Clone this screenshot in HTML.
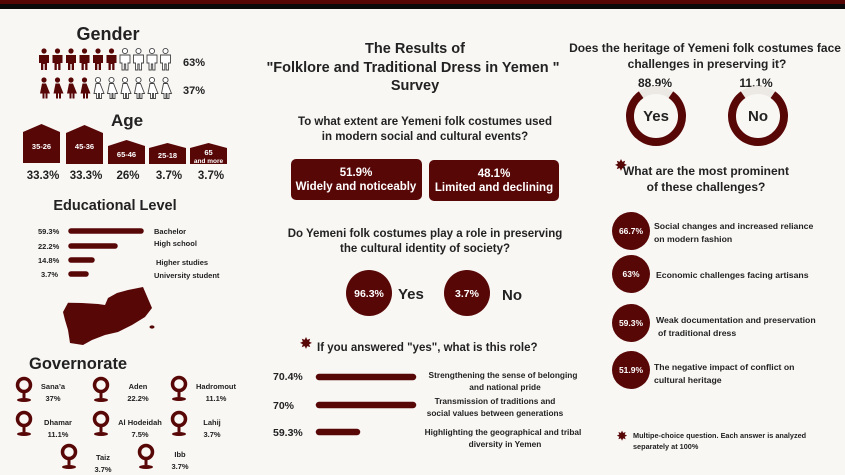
<!DOCTYPE html>
<html><head><meta charset="utf-8"><style>
html,body{margin:0;padding:0;background:#f9f7f4;}
svg{display:block;}
text{font-family:"Liberation Sans",sans-serif;font-weight:bold;fill:#222;}
</style></head><body>
<svg width="845" height="475" viewBox="0 0 845 475" xmlns="http://www.w3.org/2000/svg">
<defs>
<g id="man"><circle cx="6" cy="3" r="2.6"/><path d="M1 7 h10 v8 h-2 v7 h-2.3 v-6 h-1.4 v6 h-2.3 v-7 h-2 z"/></g>
<g id="woman"><circle cx="6" cy="3" r="2.6"/><path d="M4 6.5 h4 l4 10 h-2.5 v5 h-2 v-5 h-1 v5 h-2 v-5 h-2.5 z"/></g>
<g id="pin"><circle cx="9" cy="8" r="6.5" fill="none" stroke="#580707" stroke-width="3.5"/><path d="M7.5 14 h3 v7 h-3z" fill="#580707"/><ellipse cx="9" cy="23" rx="7" ry="2" fill="#580707"/></g>
</defs>
<rect width="845" height="475" fill="#f9f7f4"/>
<rect width="845" height="4" fill="#580707"/>
<rect y="4" width="845" height="5" fill="#0a0a0a"/>

<!-- Gender -->
<text x="108" y="40" font-size="18" text-anchor="middle">Gender</text>
<g fill="#580707">
<use href="#man" x="38" y="48"/><use href="#man" x="51.5" y="48"/><use href="#man" x="65" y="48"/><use href="#man" x="78.5" y="48"/><use href="#man" x="92" y="48"/><use href="#man" x="105.5" y="48"/>
</g>
<g fill="#fff" stroke="#444" stroke-width="0.9">
<use href="#man" x="119" y="48"/><use href="#man" x="132.5" y="48"/><use href="#man" x="146" y="48"/><use href="#man" x="159.5" y="48"/>
</g>
<g fill="#580707">
<use href="#woman" x="38" y="77"/><use href="#woman" x="51.5" y="77"/><use href="#woman" x="65" y="77"/><use href="#woman" x="78.5" y="77"/>
</g>
<g fill="#fff" stroke="#444" stroke-width="0.9">
<use href="#woman" x="92" y="77"/><use href="#woman" x="105.5" y="77"/><use href="#woman" x="119" y="77"/><use href="#woman" x="132.5" y="77"/><use href="#woman" x="146" y="77"/><use href="#woman" x="159.5" y="77"/>
</g>
<text x="183" y="66" font-size="11">63%</text>
<text x="183" y="94" font-size="11">37%</text>

<!-- Age -->
<text x="127" y="126" font-size="17" text-anchor="middle">Age</text>
<g fill="#580707">
<polygon points="23,132 41.5,124 60,132 60,163 23,163"/>
<polygon points="66,133 84.5,125 103,133 103,164 66,164"/>
<polygon points="108,146 126.5,140 145,146 145,164 108,164"/>
<polygon points="149,148 167.5,143 186,148 186,164 149,164"/>
<polygon points="190,148 208.5,143 227,148 227,164 190,164"/>
</g>
<g font-size="7.5" text-anchor="middle">
<text x="41.5" y="149" style="fill:#fff">35-26</text>
<text x="84.5" y="149" style="fill:#fff">45-36</text>
<text x="126.5" y="157" style="fill:#fff">65-46</text>
<text x="167.5" y="158" style="fill:#fff">25-18</text>
<text x="208.5" y="155" style="fill:#fff">65</text>
<text x="208.5" y="163" font-size="6.5" style="fill:#fff">and more</text>
</g>
<g font-size="11.5" text-anchor="middle">
<text x="43" y="179">33.3%</text><text x="86" y="179">33.3%</text><text x="128" y="179">26%</text><text x="169" y="179">3.7%</text><text x="211" y="179">3.7%</text>
</g>

<!-- Education -->
<text x="115" y="210" font-size="14.5" text-anchor="middle">Educational Level</text>
<g font-size="7.5">
<text x="38" y="234">59.3%</text><text x="38" y="249">22.2%</text><text x="38" y="263">14.8%</text><text x="41" y="277">3.7%</text>
<text x="154" y="234">Bachelor</text><text x="154" y="246">High school</text><text x="156" y="265">Higher studies</text><text x="154" y="278">University student</text>
</g>
<g stroke="#580707" stroke-width="5.5" stroke-linecap="round">
<line x1="71" y1="231" x2="141" y2="231"/><line x1="71" y1="246" x2="115" y2="246"/><line x1="71" y1="260" x2="92" y2="260"/><line x1="71" y1="274" x2="86" y2="274"/>
</g>
<polygon fill="#580707" points="68,302.7 82,303 98,304 105,305 108,298 117,293 128,290 143,287 152,308 145,317 132,325 118,332 105,335 92,340 83,345 70,343 68,330 65,320 63,312"/>
<ellipse cx="152" cy="327" rx="2.5" ry="1.6" fill="#580707"/>

<!-- Governorate -->
<text x="29" y="369" font-size="16.5">Governorate</text>
<use href="#pin" x="15" y="377"/><use href="#pin" x="92" y="377"/><use href="#pin" x="170" y="376"/>
<use href="#pin" x="15" y="411"/><use href="#pin" x="92" y="411"/><use href="#pin" x="170" y="411"/>
<use href="#pin" x="60" y="444"/><use href="#pin" x="137" y="444"/>
<g font-size="7.5" text-anchor="middle">
<text x="53" y="389">Sana’a</text><text x="53" y="401">37%</text>
<text x="138" y="389">Aden</text><text x="138" y="401">22.2%</text>
<text x="216" y="389">Hadromout</text><text x="216" y="401">11.1%</text>
<text x="58" y="425">Dhamar</text><text x="58" y="437">11.1%</text>
<text x="140" y="425">Al Hodeidah</text><text x="140" y="437">7.5%</text>
<text x="212" y="425">Lahij</text><text x="212" y="437">3.7%</text>
<text x="103" y="460">Taiz</text><text x="103" y="472">3.7%</text>
<text x="180" y="457">Ibb</text><text x="180" y="469">3.7%</text>
</g>

<!-- Center -->
<g font-size="14.5" text-anchor="middle">
<text x="415" y="53">The Results of</text>
<text x="413" y="72">"Folklore and Traditional Dress in Yemen "</text>
<text x="415" y="90">Survey</text>
</g>
<g font-size="11.5" text-anchor="middle">
<text x="425" y="125">To what extent are Yemeni folk costumes used</text>
<text x="425" y="140">in modern social and cultural events?</text>
<text x="425" y="237">Do Yemeni folk costumes play a role in preserving</text>
<text x="425" y="252">the cultural identity of society?</text>
</g>
<rect x="291" y="159" width="131" height="41" rx="5" fill="#580707"/>
<rect x="429" y="160" width="130" height="41" rx="5" fill="#580707"/>
<g font-size="11.5" text-anchor="middle">
<text x="356" y="176" style="fill:#fff">51.9%</text><text x="356" y="190" style="fill:#fff">Widely and noticeably</text>
<text x="494" y="177" style="fill:#fff">48.1%</text><text x="494" y="191" style="fill:#fff">Limited and declining</text>
</g>
<circle cx="369" cy="293" r="23" fill="#580707"/><circle cx="467" cy="293" r="23" fill="#580707"/>
<text x="369" y="297" font-size="10.5" text-anchor="middle" style="fill:#fff">96.3%</text>
<text x="467" y="297" font-size="10.5" text-anchor="middle" style="fill:#fff">3.7%</text>
<text x="398" y="299" font-size="15">Yes</text>
<text x="502" y="300" font-size="15">No</text>

<text x="306" y="348" font-size="14" text-anchor="middle" style="fill:#580707">✸</text>
<text x="317" y="351" font-size="11.5">If you answered "yes", what is this role?</text>
<g font-size="10.5">
<text x="273" y="380">70.4%</text><text x="273" y="409">70%</text><text x="273" y="436">59.3%</text>
</g>
<g stroke="#580707" stroke-width="6.5" stroke-linecap="round">
<line x1="319" y1="377" x2="413" y2="377"/><line x1="319" y1="405" x2="413" y2="405"/><line x1="319" y1="432" x2="357" y2="432"/>
</g>
<g font-size="8.3" text-anchor="middle">
<text x="503" y="378">Strengthening the sense of belonging</text><text x="505" y="390">and national pride</text>
<text x="495" y="404">Transmission of traditions and</text><text x="495" y="416">social values between generations</text>
<text x="503" y="435">Highlighting the geographical and tribal</text><text x="505" y="447">diversity in Yemen</text>
</g>

<!-- Right -->
<g font-size="12" text-anchor="middle">
<text x="705" y="52">Does the heritage of Yemeni folk costumes face</text>
<text x="707" y="68">challenges in preserving it?</text>
<text x="655" y="87">88.9%</text><text x="756" y="87">11.1%</text>
</g>
<circle cx="656" cy="116" r="26" fill="none" stroke="#ece8e4" stroke-width="8"/>
<path d="M670.9 94.7 A26 26 0 1 1 641.1 94.7" fill="none" stroke="#580707" stroke-width="8"/>
<circle cx="758" cy="116" r="26" fill="none" stroke="#ece8e4" stroke-width="8"/>
<path d="M772.9 94.7 A26 26 0 1 1 743.1 94.7" fill="none" stroke="#580707" stroke-width="8"/>
<text x="656" y="121" font-size="15" text-anchor="middle">Yes</text>
<text x="758" y="121" font-size="15" text-anchor="middle">No</text>

<text x="621" y="170" font-size="14" text-anchor="middle" style="fill:#580707">✸</text>
<g font-size="12" text-anchor="middle">
<text x="706" y="175">What are the most prominent</text>
<text x="706" y="191">of these challenges?</text>
</g>
<g fill="#580707">
<circle cx="631" cy="231" r="19"/><circle cx="631" cy="274" r="19"/><circle cx="631" cy="323" r="19"/><circle cx="631" cy="370" r="19"/>
</g>
<g font-size="8.5" text-anchor="middle">
<text x="631" y="234" style="fill:#fff">66.7%</text><text x="631" y="277" style="fill:#fff">63%</text>
<text x="631" y="326" style="fill:#fff">59.3%</text><text x="631" y="373" style="fill:#fff">51.9%</text>
</g>
<g font-size="8.7">
<text x="654" y="229">Social changes and increased reliance</text><text x="654" y="242">on modern fashion</text>
<text x="656" y="278">Economic challenges facing artisans</text>
<text x="656" y="323">Weak documentation and preservation</text><text x="658" y="336">of traditional dress</text>
<text x="654" y="370">The negative impact of conflict on</text><text x="654" y="383">cultural heritage</text>
</g>
<text x="622" y="440" font-size="12" text-anchor="middle" style="fill:#580707">✸</text>
<g font-size="7.3">
<text x="633" y="438">Multipe-choice question. Each answer is analyzed</text>
<text x="633" y="449">separately at 100%</text>
</g>
</svg>
</body></html>
